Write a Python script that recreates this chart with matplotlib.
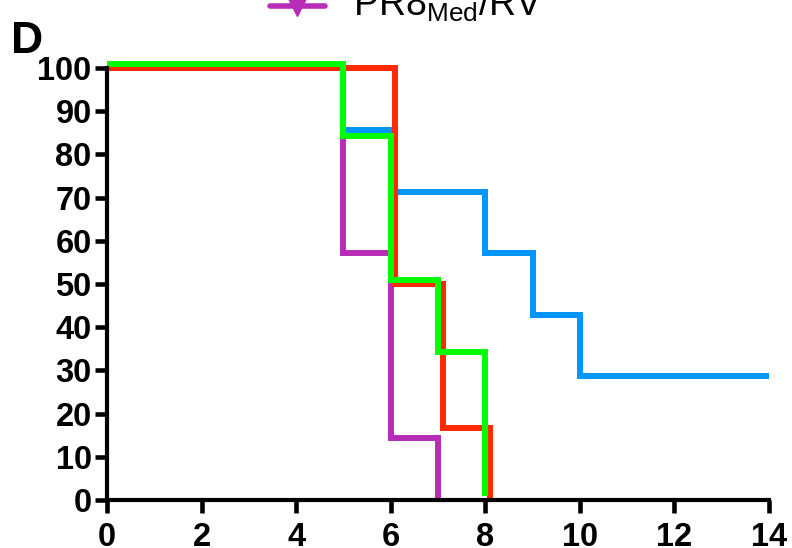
import matplotlib
matplotlib.use('Agg')
import matplotlib.pyplot as plt
from matplotlib.lines import Line2D

plt.rcParams['font.family'] = ['Liberation Sans', 'DejaVu Sans']
plt.rcParams['mathtext.fontset'] = 'custom'
plt.rcParams['mathtext.rm'] = 'Liberation Sans'

# survival curves (days, percent survival)
blue_days = [0, 5, 6, 8, 9, 10, 14]
blue_surv = [100, 85.7, 71.4, 57.1, 42.9, 28.6, 28.6]
magenta_days = [0, 5, 6, 7]
magenta_surv = [100, 57.1, 14.3, 0]
red_days = [0, 6.1, 7.1, 8.1]
red_surv = [100, 50, 16.7, 0]
green_days = [0, 5, 6, 7, 8]
green_surv = [101, 84.3, 51, 34.3, 1]

x_ticks = list(range(0, 15, 2))
y_ticks = list(range(0, 101, 10))
legend_label = r'PR8$_{\mathrm{Med}}$/RV'

fig = plt.figure(figsize=(7.92, 5.48), dpi=100)
ax = fig.add_axes([0.1351, 0.0876, 0.9710 - 0.1351, 0.8759 - 0.0876])

#draw order matters: green ends up on top like the original
for d, s, c in zip([blue_days, magenta_days, red_days, green_days],
                   [blue_surv, magenta_surv, red_surv, green_surv],
                   ['#0096FF', '#B82DB8', '#FF2A00', '#00FF00']):
    ax.step(d, s, where='post', color=c, lw=4.3, clip_on=False,
            solid_joinstyle='miter', solid_capstyle='butt')

ax.set_xlim(0, 14)
ax.set_ylim(0, 100)
ax.set_xticks(x_ticks)
ax.set_yticks(y_ticks)
for side in ['top', 'right']:
    ax.spines[side].set_visible(False)
for side in ['left', 'bottom']:
    ax.spines[side].set_linewidth(3)
ax.tick_params(axis='both', direction='out', length=9, width=3.3, labelsize=23.5)
ax.tick_params(axis='x', pad=7)
ax.tick_params(axis='y', pad=2)
for lab in ax.get_xticklabels() + ax.get_yticklabels():
    lab.set_fontweight('bold')

# panel letter
fig.text(11 / 792, 1 - 53 / 548, 'D', fontsize=32, fontweight='bold', va='baseline', ha='left')

# legend entry that is cut off at the top edge
fig.add_artist(Line2D([270 / 792, 325 / 792], [1 - 6 / 548, 1 - 6 / 548], transform=fig.transFigure,
                      color='#B82DB8', lw=4, solid_capstyle='round'))
fig.add_artist(Line2D([297 / 792], [1 - 6 / 548], transform=fig.transFigure, marker='v',
                      markersize=14, color='#B82DB8', lw=0))
fig.text(353 / 792, 1 - 16 / 548, legend_label, fontsize=27, va='baseline', ha='left')

fig.savefig('out.png', dpi=100)
